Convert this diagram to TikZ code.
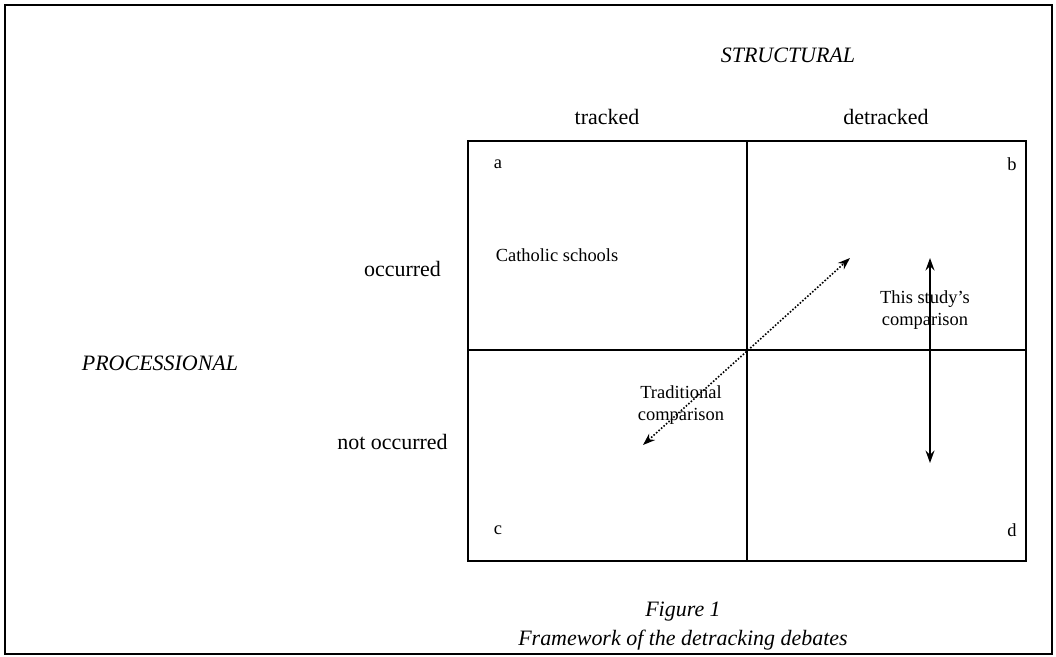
\documentclass[tikz,border=0pt]{standalone}
\usepackage{fontspec}
\setmainfont{Liberation Serif}
\usetikzlibrary{arrows.meta}
\tikzset{
  axislabel/.style={font=\fontsize{12.5}{15}\selectfont},
  celltext/.style={font=\fontsize{10.5}{13}\selectfont, align=center},
  corner/.style={font=\fontsize{10.5}{13}\selectfont},
  gridline/.style={line width=1.1pt},
  compare/.style={{Stealth[length=7pt,width=5pt]}-{Stealth[length=7pt,width=5pt]}, line width=0.9pt, densely dotted}
}
\begin{document}
\begin{tikzpicture}
\useasboundingbox (0,0) rectangle (21.12,-13.12);

% Outer frame
\draw[line width=0.9pt] (0.1,-0.1) rectangle (21.04,-13.08);

% Grid
\draw[gridline] (9.36,-2.82) rectangle (20.52,-11.22);
\draw[gridline] (14.94,-2.82) -- (14.94,-11.22);
\draw[gridline] (9.36,-7.0) -- (20.52,-7.0);

% Column headings
\node (structural) at (15.76,-1.1) [axislabel, font=\fontsize{12.5}{15}\selectfont\itshape] {STRUCTURAL};
\node (tracked) at (12.14,-2.34) [axislabel] {tracked};
\node (detracked) at (17.72,-2.34) [axislabel] {detracked};

% Row headings
\node (processional) at (3.2,-7.26) [axislabel, font=\fontsize{12.5}{15}\selectfont\itshape] {PROCESSIONAL};
\node (occurred) at (8.05,-5.38) [axislabel] {occurred};
\node (notoccurred) at (7.85,-8.84) [axislabel] {not occurred};

% Cell corners
\node (a) at (9.96,-3.28) [corner] {a};
\node (b) at (20.24,-3.28) [corner] {b};
\node (c) at (9.96,-10.6) [corner] {c};
\node (d) at (20.24,-10.6) [corner] {d};

% Cell texts
\node (catholic) at (11.14,-5.1) [celltext] {Catholic schools};
\node (traditional) at (13.62,-8.1) [celltext] {Traditional\\comparison};
\node (thisstudy) at (18.5,-6.2) [celltext] {This study's\\comparison};

% Arrows
\coordinate (tradlow) at (12.86,-8.9);
\coordinate (tradhigh) at (17.0,-5.16);
\coordinate (studyhigh) at (18.6,-5.16);
\coordinate (studylow) at (18.6,-9.26);
\draw[compare] (tradlow) -- (tradhigh);
\draw[compare, solid, line width=1.3pt] (studyhigh) -- (studylow);

% Caption
\node (figure) at (13.66,-12.24) [axislabel, font=\fontsize{12.5}{15}\selectfont\itshape] {Figure 1};
\node (framework) at (13.66,-12.8) [axislabel, font=\fontsize{12.5}{15}\selectfont\itshape] {Framework of the detracking debates};

\end{tikzpicture}
\end{document}
